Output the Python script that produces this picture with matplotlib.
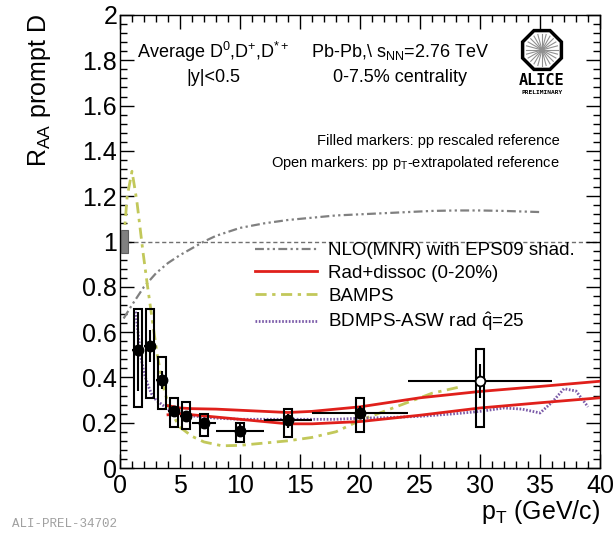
import numpy as np
import matplotlib
matplotlib.use("Agg")
import matplotlib.pyplot as plt
from matplotlib.patches import Rectangle, RegularPolygon

plt.rcParams['font.family'] = ['Liberation Sans', 'DejaVu Sans']
plt.rcParams['mathtext.fontset'] = 'custom'
plt.rcParams['mathtext.rm'] = 'Liberation Sans'
plt.rcParams['mathtext.it'] = 'Liberation Sans:italic'
plt.rcParams['mathtext.bf'] = 'Liberation Sans:bold'

# ---------------- data ----------------
pt = [1.5, 2.5, 3.5, 4.5, 5.5, 7, 10, 14, 20]
pt_lo = [1, 2, 3, 4, 5, 6, 8, 12, 16]
pt_hi = [2, 3, 4, 5, 6, 8, 12, 16, 24]
raa = [0.52, 0.54, 0.39, 0.25, 0.23, 0.20, 0.165, 0.21, 0.243]
stat_lo = [0.34, 0.47, 0.35, 0.23, 0.21, 0.18, 0.135, 0.175, 0.215]
stat_hi = [0.69, 0.61, 0.43, 0.27, 0.25, 0.22, 0.195, 0.24, 0.275]
syst_lo = [0.27, 0.31, 0.26, 0.18, 0.17, 0.14, 0.115, 0.135, 0.16]
syst_hi = [0.70, 0.70, 0.49, 0.31, 0.29, 0.24, 0.20, 0.26, 0.31]

pt_open = [30]
pt_open_lo = [24]
pt_open_hi = [36]
raa_open = [0.385]
stat_open_lo = [0.31]
stat_open_hi = [0.46]
syst_open_lo = [0.18]
syst_open_hi = [0.525]

norm_pt = 0.4
norm_lo = 0.95
norm_hi = 1.05

nlo_pt = [0.3, 1, 2, 3, 4, 5, 6, 7, 8, 10, 12, 14, 16, 18, 20, 22, 24, 26, 28, 30, 32, 35]
nlo_y = [0.66, 0.72, 0.80, 0.86, 0.905, 0.94, 0.97, 1.0, 1.025, 1.06, 1.08, 1.095,
         1.105, 1.115, 1.12, 1.125, 1.13, 1.135, 1.137, 1.137, 1.135, 1.13]

rad_pt = [4, 5, 6, 8, 10, 12, 14, 16, 18, 20, 25, 30, 35, 40]
rad_up = [0.275, 0.265, 0.262, 0.26, 0.255, 0.25, 0.245, 0.25, 0.26, 0.27, 0.31, 0.338, 0.36, 0.383]
rad_dn = [0.235, 0.24, 0.235, 0.225, 0.215, 0.205, 0.195, 0.195, 0.2, 0.205, 0.233, 0.265, 0.288, 0.31]

bamps_pt = [0.3, 0.6, 1.0, 1.4, 1.9, 2.3, 2.7, 3.1, 3.6, 4.2, 5.0, 6.0, 7.0, 8.5, 10,
            12, 14, 16, 18, 20, 22, 24, 26, 28.5]
bamps_y = [1.0, 1.2, 1.31, 1.18, 0.96, 0.80, 0.65, 0.50, 0.36, 0.25, 0.18, 0.14, 0.115,
           0.098, 0.10, 0.11, 0.12, 0.135, 0.16, 0.21, 0.25, 0.29, 0.33, 0.36]

bdmps_pt = [1.3, 1.5, 1.7, 2.0, 2.3, 2.6, 3.0, 3.5, 4, 5, 6, 8, 10, 12, 14, 16, 18, 20,
            22, 25, 28, 30, 32, 33.5, 35, 36, 37, 38, 39]
bdmps_y = [0.69, 0.60, 0.50, 0.42, 0.37, 0.33, 0.30, 0.28, 0.26, 0.24, 0.23, 0.22, 0.215,
           0.215, 0.215, 0.215, 0.215, 0.22, 0.222, 0.228, 0.24, 0.25, 0.265, 0.26, 0.243,
           0.29, 0.35, 0.34, 0.27]

# ---------------- figure ----------------
W, H = 613, 538
fig = plt.figure(figsize=(W / 100, H / 100), dpi=100)
ax = fig.add_axes([120 / W, 70 / H, 480 / W, 453 / H])
ax.set_xlim(0, 40)
ax.set_ylim(0, 2)

# reference line
ax.axhline(1.0, color='#707070', lw=1.0, ls=(0, (3, 2)), zorder=1)

# models
l_nlo, = ax.plot(nlo_pt, nlo_y, color='#808080', lw=1.6, ls=(0, (4, 1.5, 1, 1.5, 1, 1.5)),
                 label='NLO(MNR) with EPS09 shad.', zorder=2)
l_rad, = ax.plot(rad_pt, rad_up, color='#e0201b', lw=2.0, label='Rad+dissoc (0-20%)', zorder=3)
ax.plot(rad_pt, rad_dn, color='#e0201b', lw=2.0, zorder=3)
l_bamps, = ax.plot(bamps_pt, bamps_y, color='#c2c85a', lw=2.0, ls=(0, (4, 2, 1.2, 2)),
                   label='BAMPS', zorder=2)
l_bdmps, = ax.plot(bdmps_pt, bdmps_y, color='#7a5aa8', lw=2.0, ls=(0, (0.6, 0.6)),
                   label=r'BDMPS-ASW rad $\hat{\mathrm{q}}$=25', zorder=2)

# normalisation box
ax.add_patch(Rectangle((norm_pt - 0.3, norm_lo), 0.6, norm_hi - norm_lo,
                       facecolor='#808080', edgecolor='#606060', lw=0.8, zorder=4))

bw = 0.7
# data points: filled
for x, lo, hi in zip(pt, syst_lo, syst_hi):
    ax.add_patch(Rectangle((x - bw / 2, lo), bw, hi - lo, fill=False,
                           edgecolor='black', lw=1.5, zorder=5))
ax.hlines(raa, pt_lo, pt_hi, color='black', lw=1.5, zorder=5)
ax.vlines(pt, stat_lo, stat_hi, color='black', lw=1.5, zorder=5)
ax.plot(pt, raa, 'o', color='black', ms=7.5, zorder=6)

# open
for x, lo, hi in zip(pt_open, syst_open_lo, syst_open_hi):
    ax.add_patch(Rectangle((x - bw / 2, lo), bw, hi - lo, fill=False,
                           edgecolor='black', lw=1.5, zorder=5))
ax.hlines(raa_open, pt_open_lo, pt_open_hi, color='black', lw=1.5, zorder=5)
ax.vlines(pt_open, stat_open_lo, stat_open_hi, color='black', lw=1.5, zorder=5)
ax.plot(pt_open, raa_open, 'o', mfc='white', mec='black', mew=1.3, ms=7, zorder=6)

# ticks
ax.set_xticks(np.arange(0, 41, 5))
ax.set_xticks(np.arange(0, 41, 1), minor=True)
ax.set_yticks(np.arange(0, 2.01, 0.2))
ax.set_yticks(np.arange(0, 2.01, 0.04), minor=True)
ax.set_yticklabels(['0', '0.2', '0.4', '0.6', '0.8', '1', '1.2', '1.4', '1.6', '1.8', '2'])
ax.tick_params(which='both', direction='in', top=True, right=True, colors='black')
ax.tick_params(which='major', length=10, width=1.0, labelsize=18)
ax.tick_params(which='minor', length=5, width=1.0)
ax.tick_params(axis='x', which='major', pad=4)
ax.tick_params(axis='y', which='major', pad=2)
for s in ax.spines.values():
    s.set_linewidth(1.0)

# axis labels
fig.text(40 / W, 1 - 14 / H, r'R$_{\mathrm{AA}}$ prompt D', rotation=90,
         ha='center', va='top', fontsize=18)
fig.text(600 / W, 1 - 512 / H, r'p$_{\mathrm{T}}$ (GeV/c)', ha='right', va='center', fontsize=18)

# annotations
ax.text(0.195, 1 - 37 / 453, r'Average D$^{0}$,D$^{+}$,D$^{*+}$', transform=ax.transAxes,
        ha='center', va='center', fontsize=13)
ax.text(0.195, 1 - 63 / 453, '|y|<0.5', transform=ax.transAxes,
        ha='center', va='center', fontsize=13)
ax.text(0.583, 1 - 37 / 453, r'Pb-Pb,\ s$_{\mathrm{NN}}$=2.76 TeV', transform=ax.transAxes,
        ha='center', va='center', fontsize=13)
ax.text(0.583, 1 - 62 / 453, '0-7.5% centrality', transform=ax.transAxes,
        ha='center', va='center', fontsize=13)
ax.text((560 - 120) / 480, 1 - 126 / 453, 'Filled markers: pp rescaled reference',
        transform=ax.transAxes, ha='right', va='center', fontsize=10.5)
ax.text((560 - 120) / 480, 1 - 148 / 453,
        r'Open markers: pp p$_{\mathrm{T}}$-extrapolated reference',
        transform=ax.transAxes, ha='right', va='center', fontsize=10.5)

leg = ax.legend(handles=[l_nlo, l_rad, l_bamps, l_bdmps], loc='upper left',
                bbox_to_anchor=((255 - 120) / 480, (468 - 242) / 453), frameon=False,
                fontsize=13.5, handlelength=3.3, handletextpad=0.6, labelspacing=0.3,
                borderpad=0, borderaxespad=0)

# ALICE logo
lax = fig.add_axes([513 / W, 1 - 100 / H, 58 / W, 72 / H])
lax.set_xlim(0, 58)
lax.set_ylim(0, 72)
lax.axis('off')
cx, cy, r = 29, 50, 21
for k in range(24):
    a = 2 * np.pi * k / 24
    lax.plot([cx, cx + 16 * np.cos(a)], [cy, cy + 16 * np.sin(a)], color='#909090', lw=0.8)
lax.add_patch(RegularPolygon((cx, cy), 8, radius=r, orientation=np.pi / 8,
                             fill=False, edgecolor='black', lw=2.5))
lax.text(cx, 19, 'ALICE', ha='center', va='center', fontsize=11, fontweight='bold',
         family='DejaVu Sans Mono')
lax.text(cx, 7, 'PRELIMINARY', ha='center', va='center', fontsize=4.5, fontweight='bold',
         family='DejaVu Sans Mono')

fig.text(12 / W, 1 - 524 / H, 'ALI-PREL-34702', ha='left', va='center', fontsize=9,
         color='#a0a0a0', family=['Liberation Mono', 'DejaVu Sans Mono'])

fig.savefig('out.png', dpi=100)
